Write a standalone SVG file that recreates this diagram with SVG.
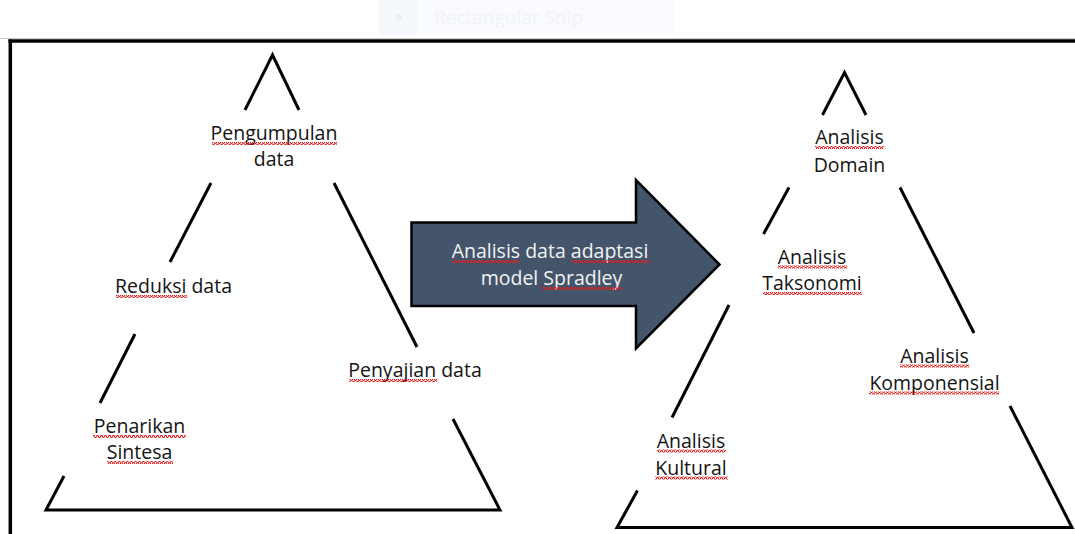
<svg xmlns="http://www.w3.org/2000/svg" width="1075" height="534" viewBox="0 0 1075 534">
  <defs>
    <pattern id="squig" patternUnits="userSpaceOnUse" width="4" height="3">
      <path d="M0,2.5 L1,0.5 L2,0.5 L3,2.5 L4,2.5" fill="none" stroke="#e41c1c" stroke-width="1.1"/>
    </pattern>
    <style>
      .edge { stroke: #000; stroke-width: 3; fill: none; stroke-linecap: butt; }
      .lbl { font-family: "Open Sans", "Liberation Sans", sans-serif; font-size: 19.5px; fill: #141414; text-anchor: middle; }
      .lbl-w { font-family: "Open Sans", "Liberation Sans", sans-serif; font-size: 19.5px; fill: #f2f2f2; text-anchor: middle; }
      .sq { fill: url(#squig); }
    </style>
  </defs>

  <rect x="0" y="0" width="1075" height="534" fill="#ffffff"/>

  <!-- faint screen overlay at top -->
  <g id="snip-overlay">
    <rect x="379" y="0" width="295" height="35" fill="#f9fbfe"/>
    <rect x="379" y="0" width="38" height="35" fill="#f4f7fc"/>
    <circle cx="399" cy="17" r="3" fill="#f3ece6"/>
    <text x="434" y="24" font-family="Open Sans, Liberation Sans, sans-serif" font-size="19px" fill="#f1f3f6">Rectangular Snip</text>
  </g>

  <!-- frame -->
  <g id="frame">
    <line x1="0" y1="38.5" x2="1075" y2="38.5" stroke="#c8c8c8" stroke-width="1"/>
    <line x1="8.5" y1="41" x2="1075" y2="41" stroke="#000" stroke-width="3.5"/>
    <line x1="10.3" y1="39.5" x2="10.3" y2="534" stroke="#000" stroke-width="3.5"/>
  </g>

  <!-- left pyramid -->
  <g id="left-pyramid">
    <polyline class="edge" points="245,110 272.5,55 299,110"/>
    <line class="edge" x1="211" y1="183" x2="170" y2="262"/>
    <line class="edge" x1="334" y1="183" x2="417" y2="347"/>
    <line class="edge" x1="135" y1="334" x2="100" y2="403"/>
    <polyline class="edge" points="64,476 46,510 500,510 453,419"/>
  </g>

  <g id="node-pengumpulan">
    <text class="lbl" x="274" y="140">Pengumpulan</text>
    <text class="lbl" x="274" y="166">data</text>
    <rect class="sq" x="212" y="142" width="125" height="3"/>
  </g>
  <g id="node-reduksi">
    <text class="lbl" x="173.5" y="293">Reduksi data</text>
    <rect class="sq" x="116" y="295" width="71" height="3"/>
  </g>
  <g id="node-penyajian">
    <text class="lbl" x="415" y="377">Penyajian data</text>
    <rect class="sq" x="349" y="379" width="88" height="3"/>
  </g>
  <g id="node-penarikan">
    <text class="lbl" x="139.5" y="433">Penarikan</text>
    <text class="lbl" x="139.5" y="459">Sintesa</text>
    <rect class="sq" x="93" y="435" width="93" height="3"/>
    <rect class="sq" x="107" y="461" width="66" height="3"/>
  </g>

  <!-- central block arrow -->
  <g id="node-arrow">
    <polygon points="411.5,222.5 636,222.5 636,180 719.5,264.5 636,348.5 636,306 411.5,306" fill="#44546a" stroke="#000" stroke-width="2.5" stroke-linejoin="miter"/>
    <text class="lbl-w" x="550" y="258">Analisis data adaptasi</text>
    <text class="lbl-w" x="551.5" y="285">model Spradley</text>
    <rect class="sq" x="452" y="260" width="67" height="3"/>
    <rect class="sq" x="571" y="260" width="78" height="3"/>
    <rect class="sq" x="542" y="287" width="80" height="3"/>
  </g>

  <!-- right pyramid -->
  <g id="right-pyramid">
    <polyline class="edge" points="822.5,115 844.5,72.5 866,115"/>
    <line class="edge" x1="789" y1="187.5" x2="763.5" y2="234"/>
    <line class="edge" x1="900" y1="187.5" x2="974" y2="333"/>
    <line class="edge" x1="729" y1="305" x2="672" y2="417.5"/>
    <polyline class="edge" points="637.5,490.5 617,527.5 1072,527.5 1010,406"/>
  </g>

  <g id="node-domain">
    <text class="lbl" x="849.5" y="144">Analisis</text>
    <text class="lbl" x="849.5" y="171.5">Domain</text>
    <rect class="sq" x="815" y="146" width="69" height="3"/>
  </g>
  <g id="node-taksonomi">
    <text class="lbl" x="812" y="263.5">Analisis</text>
    <text class="lbl" x="812" y="290">Taksonomi</text>
    <rect class="sq" x="778" y="265.5" width="69" height="3"/>
    <rect class="sq" x="763" y="292" width="99" height="3"/>
  </g>
  <g id="node-komponensial">
    <text class="lbl" x="934.5" y="362.5">Analisis</text>
    <text class="lbl" x="934.5" y="389.5">Komponensial</text>
    <rect class="sq" x="900" y="364.5" width="69" height="3"/>
    <rect class="sq" x="869" y="391.5" width="130" height="3"/>
  </g>
  <g id="node-kultural">
    <text class="lbl" x="691" y="447.5">Analisis</text>
    <text class="lbl" x="691" y="474.5">Kultural</text>
    <rect class="sq" x="657" y="449.5" width="69" height="3"/>
    <rect class="sq" x="655" y="476.5" width="73" height="3"/>
  </g>

  <g id="connectors"></g>
</svg>
